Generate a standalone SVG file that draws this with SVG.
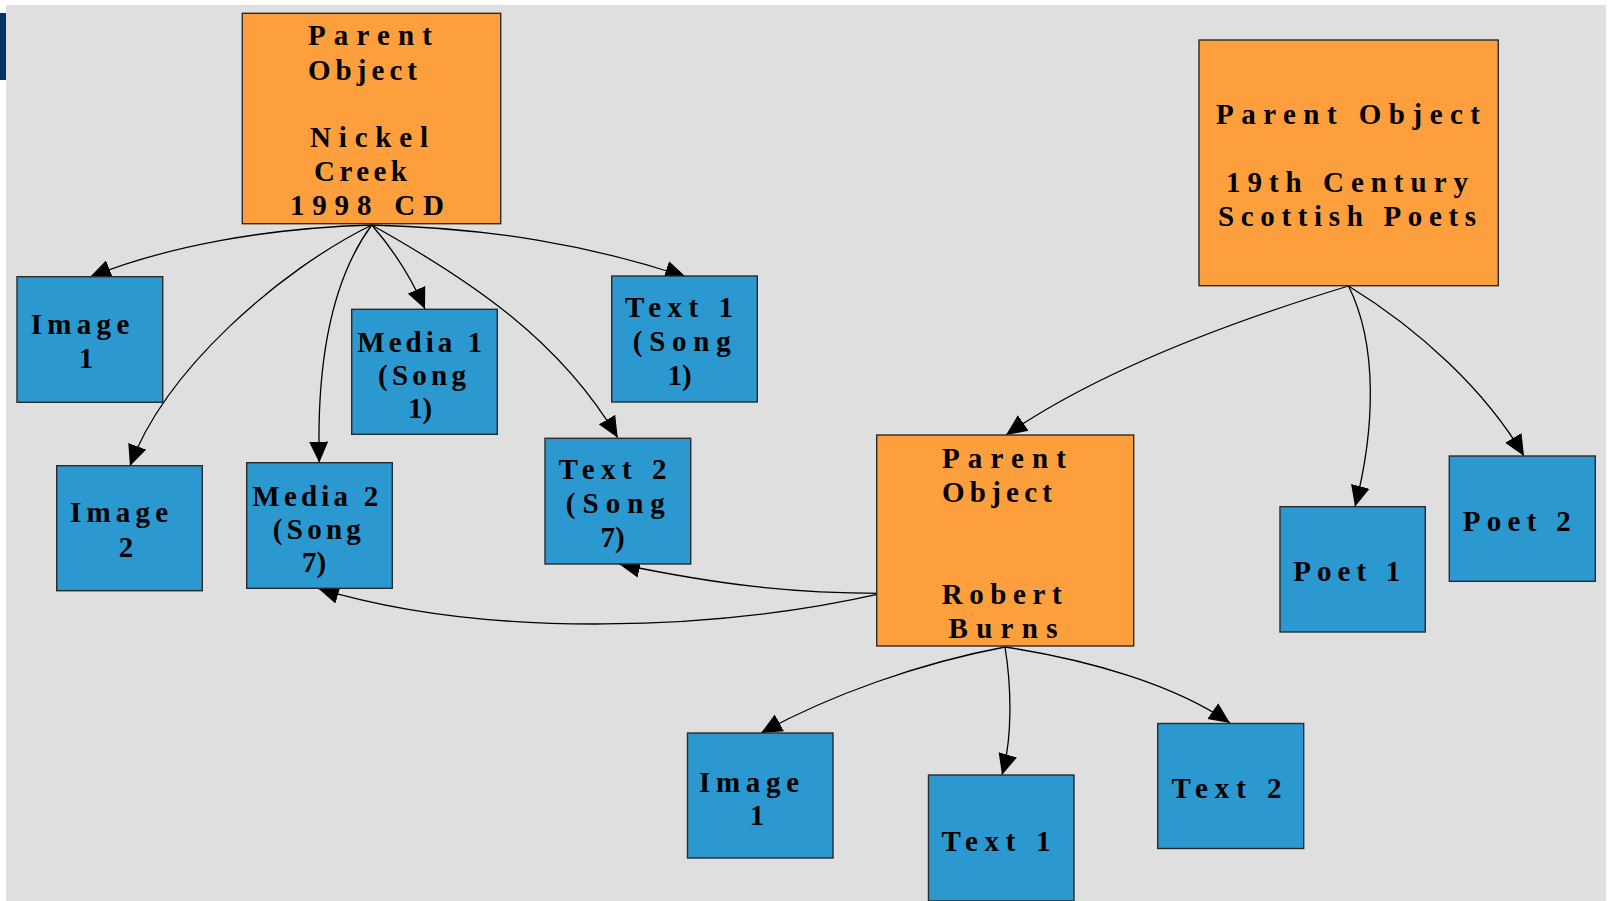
<svg xmlns="http://www.w3.org/2000/svg" width="1611" height="901" viewBox="0 0 1611 901">
<style>
.bg{fill:#dfdfdf}
.orange{fill:#fe9f3d;stroke:#2a2a2a;stroke-width:1.4}
.blue{fill:#2b99cf;stroke:#2a2a2a;stroke-width:1.4}
.lbl{font-family:"Liberation Serif","Times New Roman",serif;font-weight:bold;font-size:29px;fill:#000;text-anchor:middle}
.edge{fill:none;stroke:#000;stroke-width:1.3}
</style>
<defs>
<marker id="arr" markerUnits="userSpaceOnUse" markerWidth="22" markerHeight="20" refX="21" refY="9.5" orient="auto" viewBox="0 0 22 19">
<path d="M0,0 L21,9.5 L0,19 z" fill="#000"/>
</marker>
</defs>
<rect width="1611" height="901" fill="#ffffff"/>
<rect class="bg" x="6" y="5" width="1600" height="896"/>
<rect x="0" y="13" width="6" height="67" fill="#003466"/>

<g id="connectors">
<path class="edge" marker-end="url(#arr)" d="M371.7,225 C270,228 170,245 90,277"/>
<path class="edge" marker-end="url(#arr)" d="M371.7,225 C280,270 165,370 130,466"/>
<path class="edge" marker-end="url(#arr)" d="M371.7,225 C335,275 316,350 319.3,462.7"/>
<path class="edge" marker-end="url(#arr)" d="M371.7,225 C392,248 410,275 425,309"/>
<path class="edge" marker-end="url(#arr)" d="M371.7,225 C470,280 560,340 617.7,437.7"/>
<path class="edge" marker-end="url(#arr)" d="M371.7,225 C490,228 590,245 686,277"/>
<path class="edge" marker-end="url(#arr)" d="M1348.5,286 C1230,322 1100,370 1006,435"/>
<path class="edge" marker-end="url(#arr)" d="M1348.5,286 C1378,345 1375,430 1355,506.7"/>
<path class="edge" marker-end="url(#arr)" d="M1348.5,286 C1420,330 1485,390 1524,456"/>
<path class="edge" marker-end="url(#arr)" d="M881.7,593.3 C790,593 720,585 619,564"/>
<path class="edge" marker-end="url(#arr)" d="M881.7,593.3 C720,630 490,640 318,588.3"/>
<path class="edge" marker-end="url(#arr)" d="M1005,647 C920,663 830,695 761,733"/>
<path class="edge" marker-end="url(#arr)" d="M1005,647 C1012,690 1012,740 1002,775"/>
<path class="edge" marker-end="url(#arr)" d="M1005,647 C1090,660 1175,685 1230,723"/>
</g>

<g id="parent-nickel-creek">
<rect class="orange" x="242.3" y="13.3" width="258.4" height="210.4"/>
<text class="lbl"><tspan x="370" y="45" textLength="124">Parent</tspan><tspan x="362.5" y="80" textLength="109">Object</tspan><tspan x="369" y="147" textLength="118">Nickel</tspan><tspan x="360.5" y="181" textLength="93">Creek</tspan><tspan x="367" y="215" textLength="154">1998 CD</tspan></text>
</g>

<g id="parent-scottish-poets">
<rect class="orange" x="1199" y="40" width="299.3" height="245.7"/>
<text class="lbl"><tspan x="1348" y="124" textLength="264">Parent Object</tspan><tspan x="1347" y="192" textLength="242">19th Century</tspan><tspan x="1347" y="226" textLength="258">Scottish Poets</tspan></text>
</g>

<g id="parent-robert-burns">
<rect class="orange" x="876.7" y="435" width="257" height="211"/>
<text class="lbl"><tspan x="1004" y="468" textLength="124">Parent</tspan><tspan x="997" y="502" textLength="110">Object</tspan><tspan x="1001.7" y="603.5" textLength="120">Robert</tspan><tspan x="1003" y="637.5" textLength="109">Burns</tspan></text>
</g>

<g id="image1-nc">
<rect class="blue" x="17" y="276.7" width="145.7" height="125.6"/>
<text class="lbl"><tspan x="80" y="334" textLength="98.6">Image</tspan><tspan x="86" y="368">1</tspan></text>
</g>

<g id="image2-nc">
<rect class="blue" x="56.7" y="465.7" width="145.6" height="125"/>
<text class="lbl"><tspan x="119" y="522.3" textLength="98">Image</tspan><tspan x="126" y="556.7">2</tspan></text>
</g>

<g id="media2-nc">
<rect class="blue" x="246.7" y="462.7" width="145.6" height="125.6"/>
<text class="lbl"><tspan x="315.3" y="506" textLength="126">Media 2</tspan><tspan x="316.8" y="539" textLength="88">(Song</tspan><tspan x="314" y="572">7)</tspan></text>
</g>

<g id="media1-nc">
<rect class="blue" x="351.7" y="309.3" width="145.6" height="125"/>
<text class="lbl"><tspan x="419.7" y="352" textLength="124.7">Media 1</tspan><tspan x="422" y="385" textLength="88">(Song</tspan><tspan x="420" y="418">1)</tspan></text>
</g>

<g id="text1-nc">
<rect class="blue" x="611.7" y="276" width="145.6" height="126"/>
<text class="lbl"><tspan x="679" y="317" textLength="108">Text 1</tspan><tspan x="681.7" y="351" textLength="98">(Song</tspan><tspan x="679.7" y="385">1)</tspan></text>
</g>

<g id="text2-nc">
<rect class="blue" x="545" y="438.3" width="145.7" height="125.7"/>
<text class="lbl"><tspan x="612.5" y="478.5" textLength="108">Text 2</tspan><tspan x="615.3" y="513" textLength="99">(Song</tspan><tspan x="612.5" y="547">7)</tspan></text>
</g>

<g id="poet1">
<rect class="blue" x="1280" y="506.7" width="145.3" height="125.3"/>
<text class="lbl" x="1346.7" y="581" textLength="107">Poet 1</text>
</g>

<g id="poet2">
<rect class="blue" x="1449.3" y="456" width="146" height="125.3"/>
<text class="lbl" x="1516.7" y="531" textLength="108">Poet 2</text>
</g>

<g id="image1-rb">
<rect class="blue" x="687.5" y="733" width="145.5" height="125"/>
<text class="lbl"><tspan x="749" y="791.5" textLength="100">Image</tspan><tspan x="757" y="825">1</tspan></text>
</g>

<g id="text1-rb">
<rect class="blue" x="928.5" y="775" width="145.5" height="126"/>
<text class="lbl" x="996" y="851" textLength="109">Text 1</text>
</g>

<g id="text2-rb">
<rect class="blue" x="1157.7" y="723.5" width="146" height="125"/>
<text class="lbl" x="1226.4" y="798" textLength="110">Text 2</text>
</g>
</svg>
